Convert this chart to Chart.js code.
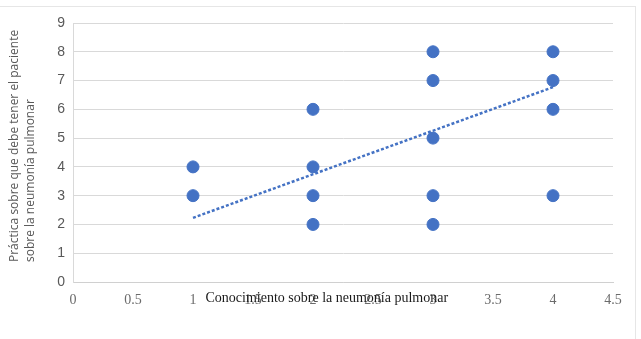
<!DOCTYPE html>
<html>
<head>
<meta charset="utf-8">
<script src="https://cdn.jsdelivr.net/npm/chart.js@4/dist/chart.umd.min.js"></script>
<style>
  html, body { margin: 0; padding: 0; background: #fff; }
  #wrap { position: relative; width: 641px; height: 339px; overflow: hidden; }
  #frame { position: absolute; left: -2px; top: 6px; width: 638px; height: 340px;
           border-top: 1px solid #e6e6e6; border-right: 1px solid #e6e6e6; box-sizing: border-box; }
  canvas { position: absolute; left: 0; top: 0; }
</style>
</head>
<body>
<div id="wrap">
  <div id="frame"></div>
  <canvas id="c" width="641" height="339"></canvas>
</div>
<script>
// ---- data ----
const pointsX = [1, 1, 2, 2, 2, 2, 3, 3, 3, 3, 3, 4, 4, 4, 4];
const pointsY = [3, 4, 2, 3, 4, 6, 2, 3, 5, 7, 8, 3, 6, 7, 8];
const trendX = [1, 4];
const trendY = [2.23, 6.77];
const xTickLabels = ['0', '0.5', '1', '1.5', '2', '2.5', '3', '3.5', '4', '4.5'];
const yTickLabels = ['0', '1', '2', '3', '4', '5', '6', '7', '8', '9'];
const xTitle = 'Conocimiento sobre la neumonía pulmonar';
const yTitle = ['Práctica sobre que debe tener el paciente', 'sobre la neumonía pulmonar'];

const blue = '#4472C4';

const titlesPlugin = {
  id: 'axisTitles',
  afterDraw(chart) {
    const ctx = chart.ctx;
    const area = chart.chartArea;
    ctx.save();
    // x-axis title (overlapping tick labels as in reference)
    ctx.font = '14px "Liberation Serif", "Times New Roman", serif';
    ctx.fillStyle = '#1a1a1a';
    ctx.textAlign = 'center';
    ctx.textBaseline = 'middle';
    ctx.fillText(xTitle, area.left + (area.right - area.left) * 0.47, area.bottom + 16);
    // y-axis title, two lines, rotated, starting from the bottom
    ctx.font = '12px "Open Sans", "Liberation Sans", sans-serif';
    ctx.fillStyle = '#595959';
    ctx.textAlign = 'left';
    ctx.translate(0, area.bottom - 20);
    ctx.rotate(-Math.PI / 2);
    ctx.fillText(yTitle[0], 0, 15);
    ctx.fillText(yTitle[1], 0, 31);
    ctx.restore();
  }
};

new Chart(document.getElementById('c'), {
  type: 'scatter',
  data: {
    datasets: [
      {
        type: 'line',
        data: trendX.map((x, i) => ({ x: x, y: trendY[i] })),
        borderColor: blue,
        borderWidth: 2.5,
        borderDash: [3, 2],
        pointRadius: 0,
        fill: false,
        order: 2
      },
      {
        data: pointsX.map((x, i) => ({ x: x, y: pointsY[i] })),
        backgroundColor: blue,
        borderColor: blue,
        pointRadius: 6,
        pointHoverRadius: 6,
        order: 1
      }
    ]
  },
  options: {
    responsive: false,
    animation: false,
    events: [],
    layout: { padding: { top: 23, right: 28, bottom: 0, left: 0 } },
    plugins: { legend: { display: false }, tooltip: { enabled: false } },
    scales: {
      x: {
        type: 'linear',
        min: 0, max: 4.5,
        afterFit(s) { s.height = 57; },
        afterBuildTicks(s) { s.ticks = xTickLabels.map(t => ({ value: parseFloat(t) })); },
        grid: { display: false, drawTicks: false },
        border: { display: true, color: '#d0d0d0', width: 1 },
        ticks: {
          padding: 10,
          color: '#6b6b6b',
          font: { family: '"Liberation Serif", "Times New Roman", serif', size: 14 },
          callback: (v, i) => xTickLabels[i]
        }
      },
      y: {
        type: 'linear',
        min: 0, max: 9,
        afterFit(s) { s.width = 73; },
        afterBuildTicks(s) { s.ticks = yTickLabels.map(t => ({ value: parseFloat(t) })); },
        grid: { color: '#d9d9d9', lineWidth: 1, drawTicks: false },
        border: { display: true, color: '#d9d9d9', width: 1 },
        ticks: {
          padding: 8,
          color: '#595959',
          font: { family: '"Liberation Sans", sans-serif', size: 14 },
          callback: (v, i) => yTickLabels[i]
        }
      }
    }
  },
  plugins: [titlesPlugin]
});
</script>
</body>
</html>
